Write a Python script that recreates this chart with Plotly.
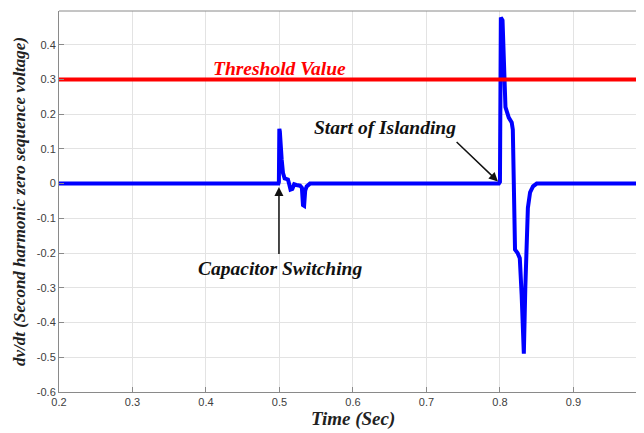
import plotly.graph_objects as go

# ---- data ----
time_s = [0.2, 0.4985, 0.4992, 0.4998, 0.5005, 0.503, 0.5048, 0.507, 0.5115, 0.513, 0.515, 0.5175,
          0.52, 0.523, 0.528, 0.5305, 0.532, 0.5335, 0.535, 0.537, 0.5415, 0.55,
          0.7985, 0.8, 0.8012, 0.8035, 0.8055, 0.8075, 0.812, 0.816, 0.8175, 0.8185, 0.8195,
          0.8205, 0.824, 0.827, 0.8295, 0.8325, 0.8345, 0.8365, 0.838, 0.841, 0.845, 0.85, 1.0]
dvdt = [0.0, 0.0, 0.005, 0.158, 0.15, 0.069, 0.03, 0.015, 0.012, 0.0, -0.017, -0.015,
        -0.002, -0.004, -0.006, -0.012, -0.062, -0.064, -0.02, -0.008, 0.0, 0.0,
        0.0, 0.005, 0.478, 0.47, 0.33, 0.22, 0.19, 0.176, 0.155, 0.05, -0.08,
        -0.19, -0.2, -0.215, -0.32, -0.49, -0.3, -0.13, -0.07, -0.025, -0.008, 0.0, 0.0]
threshold_t = [0.2, 1.0]
threshold_v = [0.3, 0.3]

x_ticks = [0.2, 0.3, 0.4, 0.5, 0.6, 0.7, 0.8, 0.9, 1.0]
x_tick_labels = ["0.2", "0.3", "0.4", "0.5", "0.6", "0.7", "0.8", "0.9", "1"]
y_ticks = [-0.6, -0.5, -0.4, -0.3, -0.2, -0.1, 0, 0.1, 0.2, 0.3, 0.4]
y_tick_labels = ["-0.6", "-0.5", "-0.4", "-0.3", "-0.2", "-0.1", "0", "0.1", "0.2", "0.3", "0.4"]
x_title = "Time (Sec)"
y_title = "dv/dt (Second harmonic zero sequence voltage)"

serif = "Liberation Serif, Times New Roman, serif"
sans = "Liberation Sans, Arial, sans-serif"

fig = go.Figure()
fig.add_trace(go.Scatter(x=time_s, y=dvdt, mode="lines",
                         line=dict(color="#0000FF", width=4), showlegend=False))
fig.add_trace(go.Scatter(x=threshold_t, y=threshold_v, mode="lines",
                         line=dict(color="#FF0000", width=4), showlegend=False))

axis_common = dict(showgrid=True, gridcolor="#e3e3e3", gridwidth=1, zeroline=False,
                   showline=True, linecolor="#8a8a8a", linewidth=1, mirror=False,
                   ticks="inside", ticklen=5, tickcolor="#8a8a8a", automargin=False,
                   tickfont=dict(family=sans, size=11, color="#404040"))

fig.update_xaxes(range=[0.2, 0.996], tickvals=x_ticks, ticktext=x_tick_labels, **axis_common)
fig.update_yaxes(range=[-0.6, 0.497], tickvals=y_ticks, ticktext=y_tick_labels,
                 title=dict(text="<b><i>" + y_title + "</i></b>",
                            font=dict(family=serif, size=17, color="#222"), standoff=6),
                 **axis_common)

# x-axis title placed under the tick labels
fig.add_annotation(x=0.6, xref="x", y=0, yref="paper", yanchor="top", yshift=-14,
                   text="<b><i>" + x_title + "</i></b>", showarrow=False,
                   font=dict(family=serif, size=19, color="#222"))

# top border of the box
fig.add_shape(type="line", xref="paper", yref="paper", x0=0, x1=1, y0=1, y1=1,
              line=dict(color="#8a8a8a", width=1))

ann_size = 19.5
fig.add_annotation(x=0.5, y=0.332, xref="x", yref="y", text="<b><i>Threshold Value</i></b>",
                   showarrow=False, font=dict(family=serif, size=ann_size, color="#FF0000"))
fig.add_annotation(x=0.6435, y=0.163, xref="x", yref="y", text="<b><i>Start of Islanding</i></b>",
                   showarrow=False, font=dict(family=serif, size=ann_size, color="#111"))
fig.add_annotation(x=0.7973, y=0.006, xref="x", yref="y", ax=0.739, ay=0.124,
                   axref="x", ayref="y", text="", showarrow=True, arrowhead=2,
                   arrowsize=1.2, arrowwidth=1.5, arrowcolor="#111", standoff=0)
fig.add_annotation(x=0.5005, y=-0.243, xref="x", yref="y", text="<b><i>Capacitor Switching</i></b>",
                   showarrow=False, font=dict(family=serif, size=ann_size, color="#111"))
fig.add_annotation(x=0.4993, y=-0.01, xref="x", yref="y", ax=0.4993, ay=-0.207,
                   axref="x", ayref="y", text="", showarrow=True, arrowhead=2,
                   arrowsize=1.2, arrowwidth=1.5, arrowcolor="#111", standoff=0)

# the page body adds an 8px margin, so the figure is sized to fill the rest of the window
fig.update_layout(width=636, height=425, margin=dict(l=51, r=0, t=3, b=41),
                  plot_bgcolor="white", paper_bgcolor="white")

fig.write_html("out.html")
